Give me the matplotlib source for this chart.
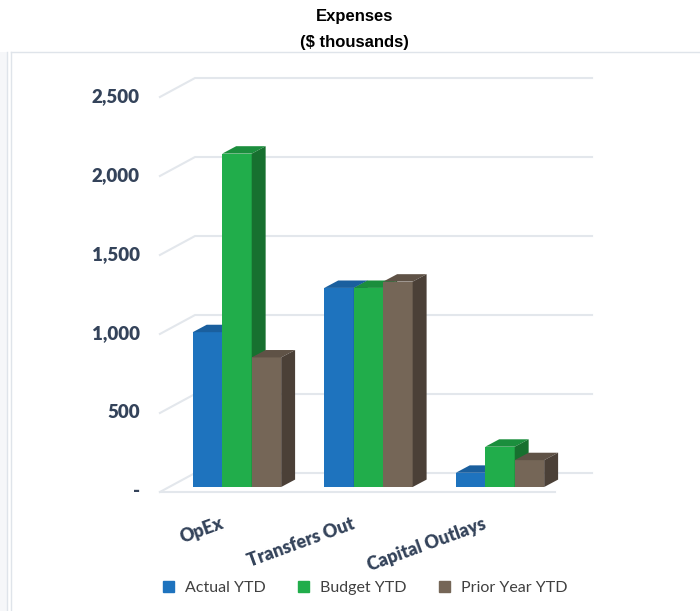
import numpy as np
import matplotlib.pyplot as plt
from matplotlib.patches import Polygon, Rectangle
from matplotlib.lines import Line2D

categories = ['OpEx', 'Transfers Out', 'Capital Outlays']
series = ['Actual YTD', 'Budget YTD', 'Prior Year YTD']
actual = [980, 1260, 90]
budget = [2110, 1260, 255]
prior = [820, 1300, 170]
yticks = [0, 500, 1000, 1500, 2000, 2500]
ytick_labels = ['-', '500', '1,000', '1,500', '2,000', '2,500']

front_col = ['#1e73be', '#21ad4b', '#756657']
top_col = ['#1a5f9e', '#1b8e3d', '#5f5246']
side_col = ['#174f85', '#17702f', '#4b4037']
grid_col = '#e3e7ec'
text_col = '#34435a'

fig = plt.figure(figsize=(7, 6.11), dpi=100)
ax = fig.add_axes([0, 0, 1, 1])
ax.set_xlim(-1.802, 3.521)
ax.set_ylim(-784.8, 3082.3)
ax.axis('off')

# panel frame
fig.add_artist(Rectangle((0, 0), 7 / 700, 1 - 52 / 611, transform=fig.transFigure,
                         color='#f6f7f9', lw=0))
for xx in [7 / 700, 11 / 700]:
    fig.add_artist(Line2D([xx, xx], [0, 1 - 52 / 611], transform=fig.transFigure,
                          color='#dfe4ea', lw=1))
fig.add_artist(Line2D([11 / 700, 1], [1 - 52 / 611, 1 - 52 / 611], transform=fig.transFigure,
                      color='#dfe4ea', lw=1))

# back wall grid with depth
gx = [-0.586, -0.319, 2.70]
gfront, gback = -31.6, 88.6
for v in yticks:
    ax.plot(gx, [v + gfront, v + gback, v + gback], color=grid_col, lw=1.5, zorder=1)
ax.plot([-0.586, 2.418], [gfront, gfront], color=grid_col, lw=1.5, zorder=1)

for v, lab in zip(yticks, ytick_labels):
    ax.text(-0.738, v + gfront, lab, ha='right', va='center', fontsize=13.5,
            fontweight='heavy', color=text_col, family='Lato')

# 3d-looking bars
bw = 0.224
dx, dy = 0.106, 47
x = np.arange(len(categories))
for i, vals in enumerate([actual, budget, prior]):
    xs = x + (i - 1) * bw
    z = 3 + 3 * i
    ax.bar(xs, vals, width=bw, color=front_col[i], zorder=z)
    for xc, h in zip(xs, vals):
        l, r = xc - bw / 2, xc + bw / 2
        ax.add_patch(Polygon([(l, h), (l + dx, h + dy), (r + dx, h + dy), (r, h)],
                             closed=True, color=top_col[i], lw=0, zorder=z + 1))
        ax.add_patch(Polygon([(r, 0), (r, h), (r + dx, h + dy), (r + dx, dy)],
                             closed=True, color=side_col[i], lw=0, zorder=z + 2))

for j, cat in enumerate(categories):
    ax.text(j - 0.13, -177, cat, rotation=20, rotation_mode='anchor', ha='right',
            va='top', fontsize=13, fontweight='heavy', color=text_col, family='Lato')

fig.text(0.507, 1 - 17 / 611, 'Expenses', ha='center', va='center', fontsize=12,
         fontweight='bold', family='Liberation Sans')
fig.text(0.507, 1 - 42 / 611, '($ thousands)', ha='center', va='center', fontsize=12,
         fontweight='bold', family='Liberation Sans')

handles = [Rectangle((0, 0), 1, 1, color=c) for c in front_col]
fig.legend(handles, series, loc='center', bbox_to_anchor=(0.522, 0.038), ncol=3,
           frameon=False, handlelength=0.7, handleheight=0.7, handletextpad=0.7,
           columnspacing=2.0, prop={'family': 'Lato', 'size': 11.5}, labelcolor='#404040')

fig.savefig('out.png', dpi=100)
